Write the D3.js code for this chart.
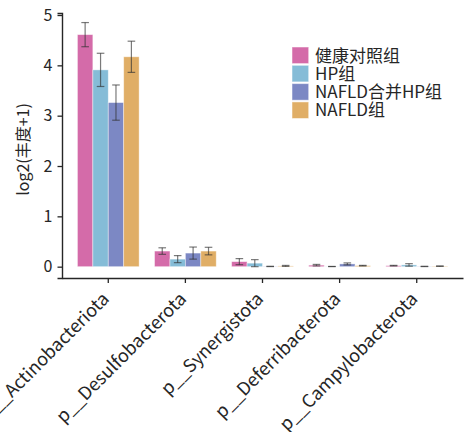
<!DOCTYPE html>
<html><head><meta charset="utf-8">
<script src="https://cdn.jsdelivr.net/npm/d3@7"></script>
<style>body{margin:0;background:#fff}svg{display:block}text{font-family:"Noto Sans CJK SC","Noto Sans",sans-serif;fill:#262626}</style>
</head><body><svg id="c" width="464" height="432"></svg>
<script>
const categories = ["p__Actinobacteriota","p__Desulfobacterota","p__Synergistota","p__Deferribacterota","p__Campylobacterota"];
const seriesNames = ["健康对照组","HP组","NAFLD合并HP组","NAFLD组"];
const colors = ["#d46ba9","#85bcd7","#7c88c4","#e0ae66"];
const valHealthy = [4.61, 0.31, 0.10, 0.03, 0.02];
const valHP = [3.91, 0.15, 0.07, 0.003, 0.035];
const valNafldHP = [3.26, 0.27, 0.005, 0.055, 0.005];
const valNafld = [4.17, 0.31, 0.015, 0.02, 0.01];
const errHealthy = [0.24, 0.065, 0.06, 0.015, 0.006];
const errHP = [0.33, 0.07, 0.07, 0.002, 0.025];
const errNafldHP = [0.35, 0.12, 0.003, 0.02, 0.003];
const errNafld = [0.31, 0.075, 0.01, 0.006, 0.005];
const yTicks = [0,1,2,3,4,5];

const values = [valHealthy, valHP, valNafldHP, valNafld];
const errs = [errHealthy, errHP, errNafldHP, errNafld];

const svg = d3.select("#c");
const mLeft = 62, mRight = 463, mTop = 13, mBottom = 278;
const y = d3.scaleLinear().domain([-0.225, 5.04]).range([mBottom, mTop]);
const x = d3.scaleBand().domain(categories).range([mLeft, mRight]).paddingInner(0).paddingOuter(0.1);
const xs = d3.scaleBand().domain(seriesNames).range([-0.4*x.bandwidth(), 0.4*x.bandwidth()]);

const data = [];
seriesNames.forEach((s,i)=>categories.forEach((c,j)=>data.push({s,c,i,v:values[i][j],e:errs[i][j]})));

const cx = d => x(d.c) + x.bandwidth()/2 + xs(d.s);
svg.append("g").selectAll("rect").data(data).join("rect")
  .attr("x", cx).attr("width", xs.bandwidth())
  .attr("y", d=>y(d.v)).attr("height", d=>y(0)-y(d.v))
  .attr("fill", d=>colors[d.i]).attr("stroke","#fff").attr("stroke-opacity",0.5).attr("stroke-width",0.8);

const eg = svg.append("g").attr("stroke","#333").attr("stroke-opacity",0.65).attr("stroke-width",1.2);
data.forEach(d=>{
  const m = cx(d) + xs.bandwidth()/2, cap = 3.8;
  eg.append("line").attr("x1",m).attr("x2",m).attr("y1",y(d.v-d.e)).attr("y2",y(d.v+d.e));
  eg.append("line").attr("x1",m-cap).attr("x2",m+cap).attr("y1",y(d.v-d.e)).attr("y2",y(d.v-d.e));
  eg.append("line").attr("x1",m-cap).attr("x2",m+cap).attr("y1",y(d.v+d.e)).attr("y2",y(d.v+d.e));
});

// axes
const yAxis = d3.axisLeft(y).tickValues(yTicks).tickFormat(d3.format("d")).tickSize(4.5).tickPadding(5);
const gy = svg.append("g").attr("transform",`translate(${mLeft},0)`).call(yAxis);
gy.select(".domain").attr("stroke","#262626").attr("stroke-width",1.4);
gy.selectAll(".tick line").attr("stroke","#262626").attr("stroke-width",1.3);
gy.selectAll(".tick text").attr("font-size",16).style("font-family",'"Noto Sans CJK SC",sans-serif').attr("fill","#262626");

const xAxis = d3.axisBottom(x).tickSize(5).tickSizeOuter(0);
const gx = svg.append("g").attr("transform",`translate(0,${mBottom})`).call(xAxis);
gx.select(".domain").attr("stroke","#262626").attr("stroke-width",1.4);
gx.selectAll(".tick line").attr("stroke","#262626").attr("stroke-width",1.3);
gx.selectAll(".tick text").attr("font-size",18).style("font-family",'"Noto Sans CJK SC",sans-serif').attr("fill","#262626")
  .attr("text-anchor","end").attr("y",0).attr("dy",0)
  .attr("transform","translate(2,22) rotate(-45)");

svg.append("text").attr("transform",`translate(29,${(mTop+mBottom)/2+4}) rotate(-90)`)
  .attr("text-anchor","middle").attr("font-size",16).text("log2(丰度+1)");

// legend
const lg = svg.append("g").attr("transform","translate(292,47)");
seriesNames.forEach((s,i)=>{
  const g = lg.append("g").attr("transform",`translate(0,${i*18.3})`);
  g.append("rect").attr("width",16.7).attr("height",16.6).attr("fill",colors[i]).attr("stroke","#fff").attr("stroke-opacity",0.5);
  g.append("text").attr("x",23).attr("y",14.5).attr("font-size",17).text(s);
});
</script></body></html>
